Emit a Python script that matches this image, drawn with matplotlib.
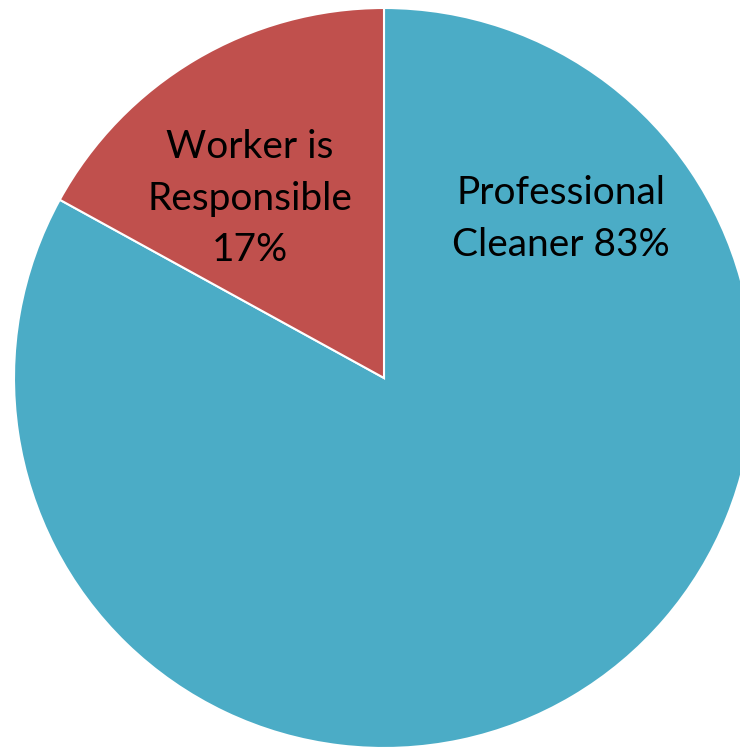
import matplotlib
matplotlib.use("Agg")
import matplotlib.pyplot as plt

labels = ["Professional\nCleaner 83%", "Worker is\nResponsible\n17%"]
shares = [83, 17]
colors = ["#4BACC6", "#C0504D"]

W, H = 740, 747
cx, cy, r = 384, 378, 370  # pie centre and radius in pixels

fig = plt.figure(figsize=(W / 100, H / 100), dpi=100)
ax = fig.add_axes([0, 0, 1, 1])
ax.axis("off")

wedges, _ = ax.pie(shares, colors=colors, startangle=90, counterclock=False,
                   radius=1.0, center=(0, 0),
                   wedgeprops=dict(edgecolor="white", linewidth=1.5))
ax.set_aspect("equal")
ax.set_xlim(-cx / r, (W - cx) / r)
ax.set_ylim(-(H - cy) / r, cy / r)

label_pos = [(0.478, 0.43), (-0.362, 0.485)]
for txt, (x, y) in zip(labels, label_pos):
    ax.text(x, y, txt, ha="center", va="center", fontsize=28,
            family="Lato", linespacing=1.53, color="black")

fig.savefig("out.png", dpi=100)
